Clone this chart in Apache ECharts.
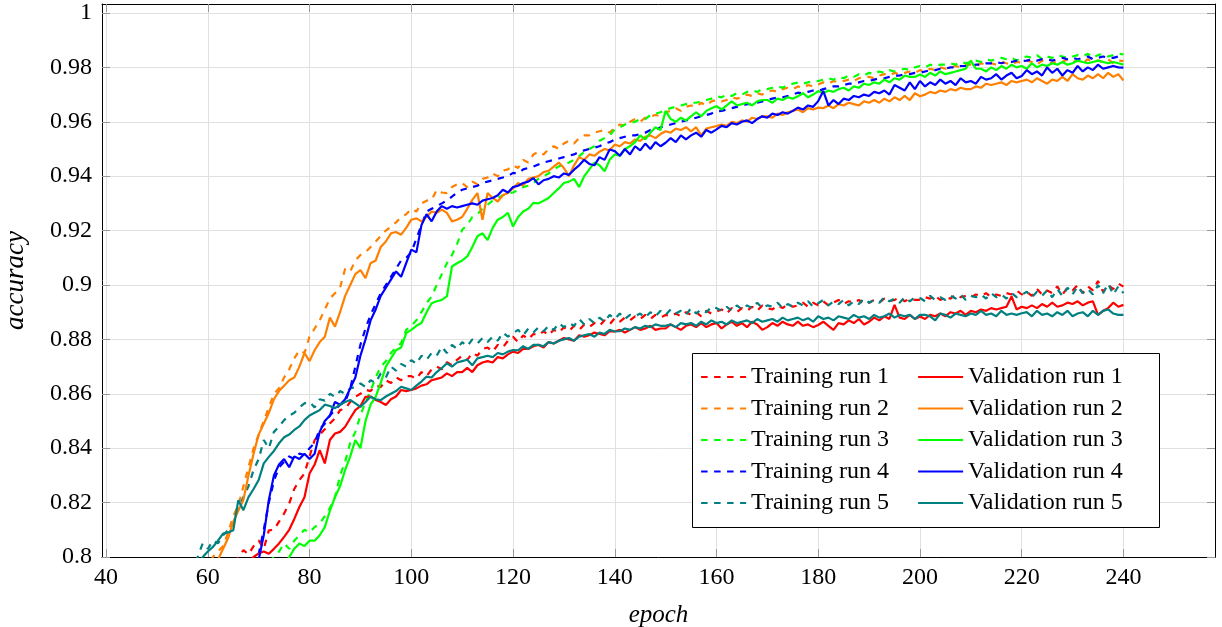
<!DOCTYPE html>
<html><head><meta charset="utf-8">
<script src="https://cdn.jsdelivr.net/npm/echarts@6/dist/echarts.min.js"></script>
<style>html,body{margin:0;padding:0;background:#fff}#c{width:1222px;height:627px}</style>
</head><body><div id="c"></div>
<script>
const firstEpoch = 55;
const xTicks = [40, 60, 80, 100, 120, 140, 160, 180, 200, 220, 240];
const yTicks = [0.8, 0.82, 0.84, 0.86, 0.88, 0.9, 0.92, 0.94, 0.96, 0.98, 1];

const train1 = [
0.765,0.768,0.771,0.774,0.777,0.781,0.784,0.787,0.790,0.795,
0.797,0.800,0.8025,0.801,0.804,0.8061,0.803,0.8098,0.810,0.813,
0.816,0.8197,0.825,0.8283,0.8307,0.837,0.843,0.845,0.847,0.8491,
0.851,0.854,0.8545,0.857,0.8589,0.860,0.8615,0.861,0.863,0.8625,
0.865,0.864,0.866,0.865,0.8665,0.8665,0.8655,0.868,0.8665,0.869,
0.870,0.869,0.8716,0.8705,0.8725,0.874,0.8725,0.875,0.874,0.8765,
0.877,0.8755,0.878,0.877,0.8795,0.881,0.879,0.8815,0.880,0.882,
0.8815,0.883,0.8815,0.8835,0.8825,0.8845,0.883,0.885,0.8835,0.8855,
0.8845,0.886,0.885,0.887,0.8855,0.8878,0.8865,0.888,0.887,0.8885,
0.8875,0.889,0.8875,0.889,0.888,0.889,0.8885,0.8895,0.8885,0.890,
0.889,0.890,0.8885,0.8905,0.8895,0.8902,0.891,0.8895,0.8915,0.890,
0.8915,0.8905,0.892,0.8905,0.8925,0.8915,0.891,0.8925,0.8915,0.893,
0.892,0.8925,0.8935,0.892,0.8935,0.8925,0.894,0.8925,0.8935,0.8945,
0.893,0.894,0.8935,0.8945,0.893,0.8935,0.8945,0.8935,0.895,0.894,
0.8945,0.8955,0.894,0.895,0.8945,0.8945,0.8955,0.895,0.896,0.8945,
0.8955,0.895,0.8965,0.8955,0.896,0.8955,0.8965,0.896,0.897,0.8955,
0.8965,0.896,0.897,0.8965,0.898,0.8965,0.8975,0.896,0.8985,0.8965,
0.898,0.897,0.8995,0.8965,0.899,0.898,0.900,0.897,0.8995,0.898,
0.9015,0.8975,0.900,0.8985,0.9005,0.8994];

const val1 = [
0.760,0.763,0.766,0.769,0.772,0.775,0.778,0.781,0.784,0.787,
0.790,0.793,0.796,0.798,0.800,0.8013,0.802,0.8012,0.803,0.805,
0.8074,0.810,0.814,0.8184,0.822,0.8307,0.834,0.8393,0.8344,0.843,
0.8454,0.846,0.8479,0.851,0.854,0.8555,0.8589,0.859,0.8577,0.857,
0.8559,0.858,0.859,0.8614,0.861,0.8614,0.862,0.863,0.8635,0.865,
0.8655,0.866,0.8675,0.8665,0.868,0.868,0.8695,0.868,0.8705,0.8715,
0.872,0.8715,0.8735,0.873,0.8745,0.8755,0.875,0.8765,0.8765,0.8775,
0.878,0.877,0.879,0.8785,0.8795,0.8805,0.880,0.8795,0.8815,0.881,
0.8815,0.8825,0.882,0.8815,0.883,0.8829,0.8835,0.8825,0.8835,0.8845,
0.8835,0.884,0.885,0.8835,0.884,0.884,0.8855,0.8845,0.8835,0.885,
0.8855,0.8845,0.886,0.8845,0.8855,0.886,0.884,0.8855,0.8865,0.885,
0.886,0.8845,0.8865,0.8855,0.8835,0.8845,0.886,0.885,0.8865,0.8855,
0.885,0.8865,0.885,0.8855,0.8845,0.8853,0.8865,0.885,0.8835,0.886,
0.8855,0.887,0.886,0.8875,0.8855,0.8865,0.888,0.887,0.8885,0.8875,
0.8927,0.888,0.8875,0.889,0.8875,0.8884,0.8875,0.889,0.8885,0.8895,
0.8885,0.890,0.8895,0.8905,0.889,0.8905,0.890,0.891,0.8905,0.8915,
0.891,0.8915,0.892,0.8958,0.891,0.892,0.8915,0.8925,0.8915,0.893,
0.892,0.8935,0.892,0.8925,0.8935,0.893,0.894,0.8925,0.8935,0.894,
0.889,0.8905,0.8915,0.8935,0.892,0.8927];

const train2 = [
0.772,0.776,0.781,0.786,0.790,0.795,0.800,0.802,0.804,0.809,
0.815,0.819,0.826,0.833,0.840,0.845,0.850,0.855,0.860,0.862,
0.866,0.869,0.873,0.876,0.875,0.881,0.884,0.887,0.891,0.895,
0.897,0.899,0.906,0.905,0.909,0.911,0.912,0.914,0.916,0.918,
0.920,0.9215,0.923,0.925,0.926,0.928,0.927,0.930,0.931,0.9313,
0.935,0.934,0.9338,0.936,0.937,0.9375,0.936,0.938,0.937,0.939,
0.9395,0.941,0.940,0.942,0.9425,0.944,0.943,0.946,0.945,0.948,
0.949,0.948,0.950,0.951,0.950,0.952,0.953,0.952,0.954,0.955,
0.955,0.956,0.9565,0.957,0.956,0.958,0.959,0.9585,0.960,0.961,
0.960,0.9615,0.962,0.9625,0.962,0.9635,0.964,0.965,0.964,0.9655,
0.966,0.9655,0.967,0.966,0.9675,0.968,0.9675,0.968,0.969,0.9685,
0.969,0.970,0.9695,0.9705,0.970,0.971,0.9715,0.971,0.972,0.9725,
0.972,0.973,0.9725,0.9735,0.973,0.9737,0.9745,0.974,0.975,0.9745,
0.975,0.9755,0.975,0.976,0.9765,0.9765,0.976,0.977,0.9775,0.977,
0.978,0.9775,0.978,0.9785,0.978,0.979,0.9785,0.9795,0.979,0.980,
0.9795,0.980,0.9805,0.980,0.981,0.981,0.9805,0.9815,0.981,0.9815,
0.981,0.982,0.9815,0.981,0.982,0.9817,0.9825,0.982,0.981,0.9825,
0.982,0.9815,0.9825,0.982,0.983,0.982,0.9825,0.9815,0.983,0.982,
0.9825,0.982,0.983,0.9815,0.9825,0.9823];

const val2 = [
0.765,0.769,0.774,0.779,0.784,0.788,0.793,0.799,0.803,0.807,
0.813,0.817,0.821,0.830,0.838,0.845,0.849,0.853,0.858,0.861,
0.863,0.865,0.866,0.870,0.875,0.872,0.876,0.879,0.881,0.888,
0.8847,0.890,0.896,0.900,0.904,0.9055,0.9025,0.908,0.909,0.914,
0.916,0.919,0.9195,0.9185,0.921,0.924,0.9245,0.9234,0.925,0.927,
0.9265,0.9277,0.9265,0.9234,0.924,0.925,0.928,0.9313,0.9338,0.924,
0.9338,0.932,0.9307,0.933,0.9338,0.9355,0.9375,0.9365,0.939,0.9395,
0.940,0.9415,0.942,0.9435,0.945,0.943,0.940,0.944,0.947,0.946,
0.948,0.9475,0.949,0.950,0.9495,0.9516,0.951,0.9525,0.952,0.9535,
0.953,0.9545,0.955,0.954,0.9555,0.9565,0.956,0.9575,0.957,0.958,
0.9565,0.958,0.955,0.9575,0.958,0.9584,0.959,0.9585,0.960,0.9595,
0.9605,0.960,0.9615,0.961,0.962,0.962,0.9615,0.963,0.9625,0.9635,
0.964,0.9645,0.9635,0.965,0.9645,0.9652,0.965,0.966,0.965,0.9665,
0.966,0.967,0.9665,0.966,0.9675,0.967,0.968,0.967,0.9685,0.9675,
0.969,0.968,0.9695,0.968,0.9705,0.9694,0.970,0.971,0.9705,0.9715,
0.971,0.972,0.9715,0.9725,0.972,0.972,0.973,0.9725,0.974,0.9735,
0.974,0.9745,0.9735,0.975,0.9745,0.975,0.9755,0.9745,0.976,0.975,
0.974,0.9755,0.975,0.9765,0.975,0.9775,0.976,0.9755,0.977,0.976,
0.9775,0.976,0.978,0.9765,0.9775,0.9752];

const train3 = [
0.745,0.748,0.751,0.754,0.757,0.760,0.763,0.766,0.769,0.772,
0.775,0.778,0.781,0.785,0.789,0.792,0.795,0.798,0.800,0.802,
0.805,0.803,0.806,0.808,0.810,0.809,0.811,0.8123,0.815,0.818,
0.822,0.830,0.835,0.842,0.846,0.852,0.857,0.861,0.866,0.870,
0.872,0.875,0.877,0.8786,0.8835,0.885,0.887,0.890,0.8933,0.8958,
0.900,0.904,0.908,0.911,0.915,0.9203,0.922,0.925,0.926,0.928,
0.9295,0.931,0.932,0.933,0.9338,0.934,0.935,0.936,0.9365,0.9375,
0.939,0.940,0.941,0.9425,0.9436,0.9445,0.945,0.946,0.9473,0.949,
0.950,0.951,0.953,0.954,0.955,0.9572,0.958,0.959,0.9595,0.960,
0.961,0.961,0.9625,0.963,0.9635,0.9645,0.965,0.9655,0.966,0.9665,
0.967,0.967,0.9675,0.968,0.9685,0.9694,0.969,0.970,0.9695,0.9705,
0.970,0.971,0.9715,0.971,0.972,0.972,0.9725,0.973,0.9725,0.9735,
0.974,0.9744,0.974,0.9745,0.975,0.975,0.9755,0.976,0.9755,0.9765,
0.976,0.977,0.9765,0.9775,0.977,0.978,0.9775,0.9785,0.978,0.979,
0.9785,0.979,0.9795,0.979,0.980,0.9805,0.980,0.981,0.9805,0.981,
0.981,0.9815,0.981,0.982,0.9815,0.982,0.9825,0.982,0.983,0.9825,
0.983,0.9835,0.983,0.9835,0.9825,0.9836,0.984,0.9835,0.9845,0.983,
0.984,0.9835,0.9845,0.984,0.9835,0.984,0.9845,0.984,0.985,0.9835,
0.9845,0.985,0.984,0.9845,0.985,0.9848];

const val3 = [
0.740,0.743,0.746,0.749,0.752,0.755,0.758,0.761,0.764,0.767,
0.770,0.773,0.776,0.779,0.782,0.785,0.787,0.789,0.791,0.794,
0.797,0.800,0.803,0.805,0.804,0.806,0.806,0.808,0.811,0.817,
0.822,0.826,0.832,0.837,0.843,0.840,0.850,0.856,0.8589,0.864,
0.870,0.873,0.876,0.877,0.8823,0.8835,0.885,0.886,0.890,0.8933,
0.894,0.8945,0.8958,0.9068,0.908,0.909,0.9105,0.914,0.9179,0.919,
0.9165,0.921,0.924,0.925,0.9265,0.9215,0.925,0.927,0.928,0.9302,
0.930,0.931,0.932,0.9338,0.9355,0.9375,0.938,0.939,0.936,0.940,
0.9425,0.945,0.944,0.9418,0.946,0.948,0.9475,0.950,0.951,0.9525,
0.955,0.9535,0.956,0.958,0.957,0.964,0.961,0.960,0.9615,0.9605,
0.962,0.9635,0.962,0.964,0.965,0.9657,0.9645,0.966,0.9675,0.966,
0.9665,0.967,0.966,0.9675,0.968,0.968,0.967,0.9685,0.968,0.969,
0.9685,0.9694,0.9705,0.969,0.970,0.9713,0.9705,0.9715,0.971,0.972,
0.9725,0.9715,0.973,0.9725,0.974,0.9735,0.9745,0.974,0.9755,0.9745,
0.976,0.9755,0.977,0.9765,0.9765,0.9774,0.9765,0.978,0.977,0.9785,
0.9775,0.978,0.9785,0.979,0.9795,0.9825,0.9795,0.9795,0.9785,0.980,
0.979,0.9805,0.9795,0.981,0.980,0.9805,0.9795,0.9815,0.980,0.981,
0.9805,0.9815,0.981,0.982,0.981,0.9815,0.9825,0.982,0.9815,0.982,
0.9825,0.982,0.9815,0.982,0.9815,0.981];

const train4 = [
0.735,0.738,0.742,0.745,0.749,0.753,0.757,0.761,0.765,0.769,
0.773,0.778,0.783,0.789,0.795,0.801,0.810,0.820,0.828,0.833,
0.835,0.837,0.836,0.838,0.8375,0.840,0.842,0.847,0.849,0.852,
0.854,0.856,0.857,0.862,0.870,0.878,0.884,0.889,0.893,0.897,
0.900,0.903,0.906,0.909,0.910,0.912,0.917,0.922,0.927,0.928,
0.929,0.930,0.931,0.9325,0.934,0.935,0.9355,0.936,0.9365,0.9375,
0.938,0.9385,0.939,0.9395,0.940,0.9412,0.941,0.9425,0.943,0.9435,
0.9443,0.945,0.9455,0.946,0.9465,0.947,0.9475,0.948,0.949,0.9495,
0.950,0.9505,0.951,0.952,0.9525,0.9535,0.954,0.9545,0.955,0.955,
0.9555,0.956,0.957,0.957,0.958,0.9584,0.959,0.9595,0.960,0.9605,
0.961,0.9615,0.962,0.9625,0.963,0.9639,0.964,0.9645,0.965,0.9655,
0.966,0.9665,0.9665,0.967,0.9675,0.968,0.9685,0.969,0.969,0.9695,
0.970,0.9707,0.9705,0.971,0.9715,0.9713,0.972,0.9725,0.973,0.973,
0.9735,0.974,0.974,0.9745,0.975,0.975,0.9755,0.976,0.976,0.9765,
0.977,0.977,0.9775,0.9775,0.978,0.978,0.9785,0.979,0.979,0.9795,
0.9795,0.980,0.980,0.9805,0.9805,0.9805,0.981,0.981,0.9815,0.9815,
0.982,0.9815,0.982,0.982,0.9825,0.9823,0.9825,0.983,0.9825,0.983,
0.983,0.9825,0.983,0.9835,0.983,0.9835,0.983,0.9835,0.984,0.983,
0.9835,0.984,0.9835,0.9835,0.984,0.9832];

const val4 = [
0.730,0.734,0.738,0.742,0.746,0.750,0.754,0.758,0.762,0.766,
0.770,0.775,0.780,0.786,0.792,0.799,0.808,0.821,0.830,0.834,
0.836,0.833,0.837,0.836,0.838,0.836,0.838,0.846,0.850,0.852,
0.857,0.856,0.858,0.862,0.866,0.874,0.880,0.887,0.891,0.896,
0.899,0.902,0.905,0.903,0.908,0.913,0.912,0.922,0.926,0.9234,
0.927,0.929,0.928,0.929,0.9285,0.929,0.9295,0.930,0.9295,0.931,
0.9315,0.932,0.933,0.935,0.934,0.936,0.9365,0.9375,0.938,0.9393,
0.937,0.9385,0.939,0.940,0.9395,0.941,0.9405,0.9424,0.944,0.946,
0.9445,0.944,0.947,0.946,0.9498,0.9492,0.9475,0.950,0.948,0.951,
0.9495,0.952,0.950,0.9525,0.951,0.9523,0.954,0.9525,0.955,0.9535,
0.955,0.956,0.9545,0.957,0.956,0.9572,0.9585,0.958,0.9595,0.959,
0.960,0.9605,0.9595,0.961,0.962,0.9615,0.963,0.9625,0.9635,0.963,
0.964,0.9652,0.9645,0.966,0.9655,0.9676,0.9713,0.966,0.968,0.9665,
0.9685,0.968,0.9695,0.969,0.970,0.9695,0.971,0.9705,0.9715,0.970,
0.9735,0.9725,0.9715,0.9745,0.972,0.975,0.973,0.9745,0.9735,0.9755,
0.974,0.975,0.9735,0.976,0.9745,0.975,0.974,0.9765,0.9755,0.976,
0.9775,0.9755,0.977,0.978,0.976,0.9768,0.979,0.9775,0.9785,0.977,
0.980,0.978,0.9795,0.977,0.979,0.978,0.9805,0.9785,0.980,0.979,
0.981,0.9795,0.980,0.9805,0.980,0.9799];

const train5 = [
0.790,0.794,0.797,0.800,0.805,0.803,0.806,0.805,0.808,0.810,
0.812,0.818,0.822,0.826,0.832,0.836,0.843,0.840,0.846,0.848,
0.8503,0.852,0.853,0.855,0.8565,0.857,0.855,0.858,0.8575,0.860,
0.8589,0.861,0.860,0.862,0.8625,0.8638,0.8625,0.865,0.864,0.8675,
0.866,0.870,0.8685,0.871,0.870,0.8724,0.871,0.874,0.8725,0.875,
0.874,0.8773,0.875,0.878,0.8765,0.879,0.8775,0.880,0.8785,0.8805,
0.879,0.881,0.8795,0.8825,0.881,0.8823,0.8835,0.8815,0.884,0.8825,
0.8845,0.883,0.885,0.8835,0.886,0.8845,0.886,0.885,0.8875,0.8855,
0.8875,0.886,0.888,0.8865,0.889,0.8875,0.8895,0.8875,0.889,0.8885,
0.8895,0.888,0.890,0.8885,0.8905,0.889,0.891,0.8895,0.8905,0.889,
0.8915,0.8895,0.891,0.890,0.892,0.8915,0.8905,0.892,0.8905,0.8925,
0.891,0.8925,0.8915,0.8935,0.8915,0.8925,0.892,0.8935,0.8915,0.893,
0.892,0.8935,0.8925,0.894,0.892,0.8933,0.8945,0.8925,0.894,0.893,
0.8945,0.8925,0.894,0.893,0.895,0.8935,0.8945,0.8935,0.8955,0.894,
0.895,0.8935,0.8955,0.894,0.8955,0.8952,0.894,0.896,0.8945,0.8955,
0.8945,0.896,0.895,0.8965,0.8945,0.896,0.8955,0.8965,0.895,0.897,
0.8955,0.8965,0.895,0.897,0.8955,0.8964,0.8975,0.8955,0.8975,0.896,
0.898,0.8955,0.8985,0.896,0.899,0.8965,0.8995,0.897,0.8985,0.8965,
0.900,0.897,0.9005,0.8965,0.8995,0.897];

const val5 = [
0.784,0.789,0.793,0.797,0.800,0.802,0.8037,0.806,0.8086,0.809,
0.8098,0.8209,0.8172,0.822,0.825,0.8283,0.8344,0.8368,0.839,0.8418,
0.844,0.845,0.8467,0.848,0.8503,0.852,0.853,0.854,0.856,0.8555,
0.8547,0.856,0.857,0.8577,0.8565,0.8552,0.857,0.8589,0.858,0.8577,
0.859,0.860,0.861,0.8626,0.862,0.8614,0.863,0.8645,0.8663,0.866,
0.868,0.8695,0.8712,0.870,0.8715,0.872,0.8725,0.8705,0.873,0.8735,
0.874,0.8735,0.875,0.8745,0.8755,0.8761,0.876,0.8775,0.8765,0.878,
0.878,0.8775,0.879,0.8785,0.8795,0.880,0.8805,0.8795,0.881,0.8815,
0.882,0.881,0.8825,0.882,0.8835,0.8829,0.883,0.884,0.8835,0.8845,
0.884,0.885,0.8845,0.8855,0.885,0.885,0.8855,0.8845,0.886,0.8855,
0.886,0.885,0.8865,0.8855,0.887,0.886,0.8865,0.8855,0.887,0.886,
0.8865,0.887,0.886,0.8875,0.8865,0.887,0.8875,0.8865,0.888,0.887,
0.8875,0.888,0.887,0.8878,0.8865,0.8885,0.8875,0.888,0.887,0.8885,
0.888,0.8875,0.889,0.888,0.8885,0.8875,0.889,0.888,0.8885,0.8895,
0.888,0.889,0.8885,0.889,0.8875,0.889,0.889,0.8885,0.887,0.8895,
0.889,0.888,0.8895,0.889,0.8885,0.8895,0.889,0.8905,0.889,0.8895,
0.8885,0.8905,0.889,0.8895,0.889,0.8896,0.890,0.8885,0.8905,0.889,
0.8895,0.8885,0.890,0.889,0.8905,0.8885,0.8895,0.890,0.8885,0.8905,
0.889,0.8905,0.891,0.8895,0.889,0.889];

const runNames = ['run 1', 'run 2', 'run 3', 'run 4', 'run 5'];
const runColors = ['#ff0000', '#ff8000', '#00ff00', '#0000ff', '#008080'];
const trainRuns = [train1, train2, train3, train4, train5];
const valRuns = [val1, val2, val3, val4, val5];

const FONT = "'Liberation Serif', 'DejaVu Serif', serif";
const toPairs = arr => arr.map((v, i) => [firstEpoch + i, v]);

const series = [];
const trainNames = [], valNames = [];
for (let k = 0; k < 5; k++) {
  const tn = 'Training ' + runNames[k], vn = 'Validation ' + runNames[k];
  trainNames.push(tn); valNames.push(vn);
  series.push({
    type: 'line', name: tn, data: toPairs(trainRuns[k]), symbol: 'none', showSymbol: false,
    clip: true, z: 2,
    lineStyle: { color: runColors[k], width: 2.2, type: [6.5, 6.5] },
    itemStyle: { color: runColors[k] }
  });
}
for (let k = 0; k < 5; k++) {
  series.push({
    type: 'line', name: valNames[k], data: toPairs(valRuns[k]), symbol: 'none', showSymbol: false,
    clip: true, z: 2,
    lineStyle: { color: runColors[k], width: 2.2, type: 'solid' },
    itemStyle: { color: runColors[k] }
  });
}

const legendCommon = {
  orient: 'vertical', top: 365, padding: 0, itemWidth: 45, itemHeight: 24, itemGap: 7.5,
  textStyle: { fontFamily: FONT, fontSize: 24, color: '#000', lineHeight: 24 },
  itemStyle: { opacity: 0 }, lineStyle: { width: 2.2 },
  selectedMode: false, z: 10
};

const chart = echarts.init(document.getElementById('c'), null, { renderer: 'canvas' });
chart.setOption({
  animation: false,
  backgroundColor: '#fff',
  grid: { left: 102, right: 7, top: 4, bottom: 70, containLabel: false, outerBoundsMode: 'none' },
  xAxis: [{
    type: 'value', min: 39.2, max: 258, position: 'bottom',
    name: 'epoch', nameLocation: 'middle', nameGap: 46,
    nameTextStyle: { fontFamily: FONT, fontStyle: 'italic', fontSize: 25, color: '#000' },
    axisLine: { show: true, onZero: false, lineStyle: { color: '#000', width: 1 } },
    axisTick: { show: true, inside: true, length: 8, customValues: xTicks, lineStyle: { color: '#999' } },
    axisLabel: { customValues: xTicks, fontFamily: FONT, fontSize: 24, color: '#000', margin: 9,
      formatter: v => String(Math.round(v)) },
    splitLine: { show: true, lineStyle: { color: '#e0e0e0', width: 1 } }
  }, {
    type: 'value', min: 39.2, max: 258, position: 'top',
    axisLine: { show: true, onZero: false, lineStyle: { color: '#000', width: 1 } },
    axisTick: { show: true, inside: true, length: 8, customValues: xTicks, lineStyle: { color: '#999' } },
    axisLabel: { show: false }, splitLine: { show: false }
  }],
  yAxis: [{
    type: 'value', min: 0.8, max: 1.0033, position: 'left',
    name: 'accuracy', nameLocation: 'middle', nameGap: 73, nameRotate: 90,
    nameTextStyle: { fontFamily: FONT, fontStyle: 'italic', fontSize: 27, color: '#000' },
    axisLine: { show: true, onZero: false, lineStyle: { color: '#000', width: 1 } },
    axisTick: { show: true, inside: true, length: 8, customValues: yTicks, lineStyle: { color: '#999' } },
    axisLabel: { customValues: yTicks, fontFamily: FONT, fontSize: 24, color: '#000', margin: 10,
      formatter: v => String(+(+v).toFixed(2)) },
    splitLine: { show: true, lineStyle: { color: '#e0e0e0', width: 1 } }
  }, {
    type: 'value', min: 0.8, max: 1.0033, position: 'right',
    axisLine: { show: true, onZero: false, lineStyle: { color: '#000', width: 1 } },
    axisTick: { show: true, inside: true, length: 8, customValues: yTicks, lineStyle: { color: '#999' } },
    axisLabel: { show: false }, splitLine: { show: false }
  }],
  legend: [
    Object.assign({}, legendCommon, { left: 700, data: trainNames }),
    Object.assign({}, legendCommon, { left: 917, data: valNames })
  ],
  graphic: [{
    type: 'rect', z: 5, shape: { x: 692.5, y: 353.5, width: 467, height: 174 },
    style: { fill: '#fff', stroke: '#000', lineWidth: 1 }
  }],
  series: series
});
</script>
</body></html>
